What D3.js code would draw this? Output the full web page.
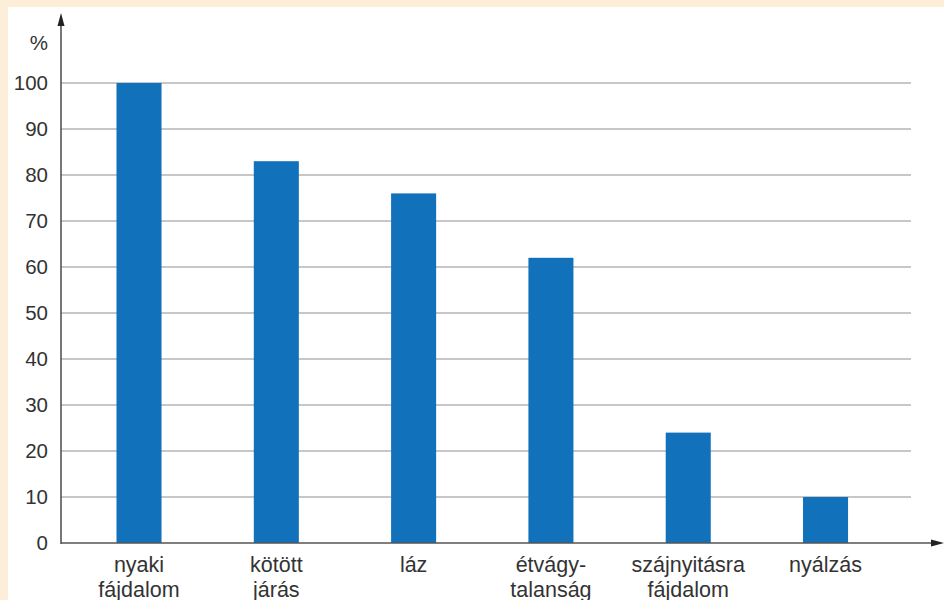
<!DOCTYPE html>
<html>
<head>
<meta charset="utf-8">
<script src="https://cdn.jsdelivr.net/npm/d3@7"></script>
<style>
  html, body { margin: 0; padding: 0; background: #fdeeda; }
  svg { display: block; }
  text { font-family: "Liberation Sans", Arial, sans-serif; fill: #333; }
</style>
</head>
<body>
<script>
// Symptom frequencies (%)
const categories = [
  ["nyaki", "fájdalom"],
  ["kötött", "járás"],
  ["láz"],
  ["étvágy-", "talanság"],
  ["szájnyitásra", "fájdalom"],
  ["nyálzás"]
];
const values = [100, 83, 76, 62, 24, 10];
const yTicks = [0, 10, 20, 30, 40, 50, 60, 70, 80, 90, 100];
const yUnit = "%";

const W = 944, H = 600;
const svg = d3.select("body").append("svg").attr("width", W).attr("height", H);

// white panel over the beige frame
svg.append("rect").attr("x", 8).attr("y", 7).attr("width", W - 8).attr("height", H - 7).attr("fill", "#ffffff");

const x0 = 61, y0 = 543;
const y = d3.scaleLinear().domain([0, 100]).range([y0, 83]);
const x = d3.scaleBand()
  .domain(d3.range(categories.length))
  .range([70.35, 894.2])
  .paddingInner(0.672)
  .paddingOuter(0.336);

// horizontal grid lines
svg.append("g")
  .selectAll("line")
  .data(yTicks.filter(d => d > 0))
  .join("line")
  .attr("x1", x0).attr("x2", 911)
  .attr("y1", d => y(d)).attr("y2", d => y(d))
  .attr("stroke", "#b4b4b4").attr("stroke-width", 1.6);

// bars
svg.append("g")
  .selectAll("rect")
  .data(values)
  .join("rect")
  .attr("x", (d, i) => x(i))
  .attr("width", x.bandwidth())
  .attr("y", d => y(d))
  .attr("height", d => y0 - y(d))
  .attr("fill", "#1271bb");

// axes with arrowheads
const axisColor = "#555";
svg.append("line").attr("x1", x0).attr("x2", x0).attr("y1", y0 + 1).attr("y2", 20)
  .attr("stroke", axisColor).attr("stroke-width", 1.6);
svg.append("path").attr("d", `M${x0},13 L${x0 - 3.5},26 L${x0 + 3.5},26 Z`).attr("fill", "#222");
svg.append("line").attr("x1", x0).attr("x2", 936).attr("y1", y0).attr("y2", y0)
  .attr("stroke", axisColor).attr("stroke-width", 1.6);
svg.append("path").attr("d", `M944,${y0} L931,${y0 - 3.5} L931,${y0 + 3.5} Z`).attr("fill", "#222");

// y tick labels
svg.append("g")
  .selectAll("text")
  .data(yTicks)
  .join("text")
  .attr("x", 48)
  .attr("y", d => y(d))
  .attr("dy", "0.35em")
  .attr("text-anchor", "end")
  .attr("font-size", 20.5)
  .text(d => d);

svg.append("text").attr("x", 48).attr("y", 43).attr("dy", "0.35em")
  .attr("text-anchor", "end").attr("font-size", 20.5).text(yUnit);

// category labels
const lab = svg.append("g")
  .selectAll("text")
  .data(categories)
  .join("text")
  .attr("x", (d, i) => x(i) + x.bandwidth() / 2)
  .attr("y", 572)
  .attr("text-anchor", "middle")
  .attr("font-size", 21.5);
lab.selectAll("tspan")
  .data(d => d)
  .join("tspan")
  .attr("x", function() { return d3.select(this.parentNode).attr("x"); })
  .attr("dy", (d, i) => i === 0 ? 0 : 25)
  .text(d => d);
</script>
</body>
</html>
